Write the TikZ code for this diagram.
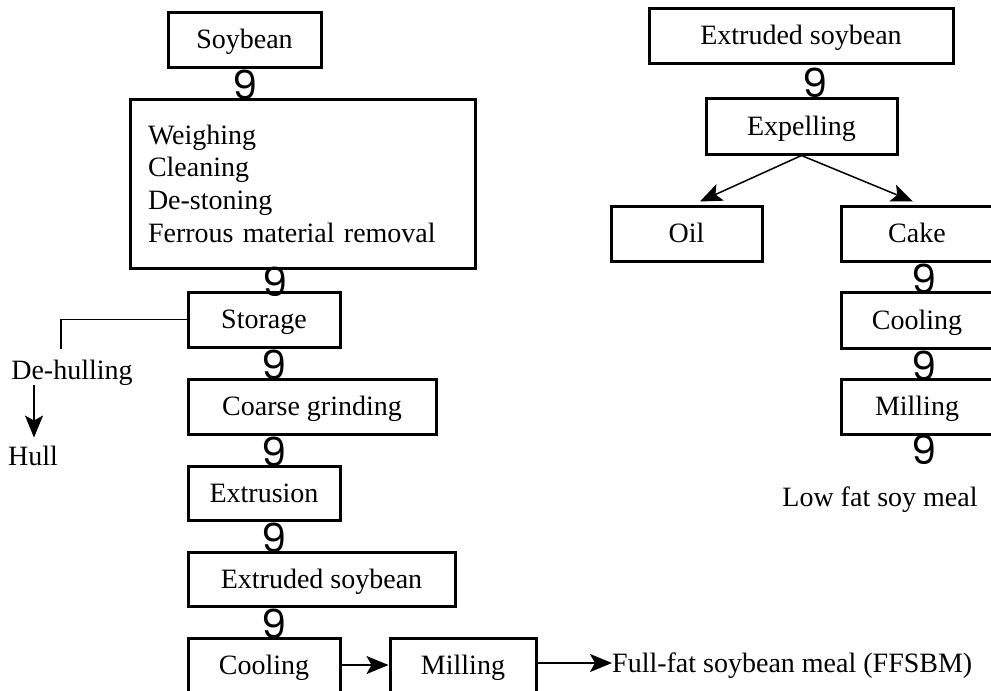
\documentclass[tikz,border=0pt]{standalone}
\usepackage{fontspec}
\setmainfont{Liberation Serif}
\newfontfamily\markfont{Poppins}
\usetikzlibrary{arrows.meta}
\begin{document}
\begin{tikzpicture}[x=1pt,y=-1pt,
  every node/.style={inner sep=0pt, font=\fontsize{28}{32.7}\selectfont},
  label/.style={text height=18.5pt, text depth=0pt},
  stagebox/.style={label, draw, line width=3pt, minimum height=55pt},
  flowmark/.style={font=\markfont\fontsize{40}{40}\selectfont},
  link/.style={line width=1.5pt},
  arr/.style={link, -{Stealth[length=22pt,width=18pt,inset=5pt]}}]
\useasboundingbox (0,0) rectangle (991,691);
\clip (0,0) rectangle (991,691);

% main processing line
\node[stagebox, minimum width=153pt] (soy) at (244.5,39.5) {Soybean};
\node[draw, line width=3pt, align=left, text width=309pt, inner xsep=18pt,
      minimum height=169pt] (prep) at (302.5,183.5)
  {Weighing\\Cleaning\\De-stoning\\Ferrous material removal};
\node[stagebox, minimum width=152pt] (storage) at (264,319.5) {Storage};
\node[stagebox, minimum width=248pt] (coarse) at (312,406.5) {Coarse grinding};
\node[stagebox, minimum width=152pt, minimum height=54pt] (extrusion) at (264,493) {Extrusion};
\node[stagebox, minimum width=267pt, minimum height=54pt] (extsoy) at (321.5,579) {Extruded soybean};
\node[stagebox, minimum width=152pt, minimum height=54pt] (coolA) at (264,665) {Cooling};
\node[stagebox, minimum width=146pt, minimum height=54pt] (millA) at (463,665) {Milling};
\node[label, anchor=west] (ffsbm) at (612,663) {Full-fat soybean meal (FFSBM)};

\node[flowmark] (m1) at (245,85) {9};
\node[flowmark] (m2) at (275,282) {9};
\node[flowmark] (m3) at (274,365) {9};
\node[flowmark] (m4) at (274,452) {9};
\node[flowmark] (m5) at (274,538) {9};
\node[flowmark] (m6) at (274,624) {9};

\draw[arr] (coolA.east) -- (millA.west);
\draw[arr] (millA.east |- ffsbm.west) -- (ffsbm.west);

% hull side branch
\node[label] (dehull) at (72,370.5) {De-hulling};
\node[label] (hull) at (33,456) {Hull};
\coordinate (dhbend) at (61,349);
\coordinate (hullfrom) at (34,385);
\draw[link] (storage.west) -| (dhbend);
\draw[arr, shorten >=9pt] (hullfrom) -- (hull.north -| hullfrom);

% expelling line
\node[stagebox, minimum width=304pt] (rext) at (801,35.5) {Extruded soybean};
\node[stagebox, minimum width=191pt, minimum height=56pt] (expel) at (801.5,126) {Expelling};
\node[stagebox, minimum width=151pt] (oil) at (686.5,233.5) {Oil};
\node[stagebox, minimum width=152pt] (cake) at (917,233.5) {Cake};
\node[stagebox, minimum width=152pt, minimum height=56pt] (coolB) at (917,320) {Cooling};
\node[stagebox, minimum width=152pt] (millB) at (917,406.5) {Milling};
\node[label] (lowfat) at (880,497) {Low fat soy meal};

\node[flowmark] (r1) at (815,82.5) {9};
\node[flowmark] (r2) at (924,278.5) {9};
\node[flowmark] (r3) at (924,365.5) {9};
\node[flowmark] (r4) at (924,450) {9};

\draw[arr] (expel.south) -- ([xshift=13.5pt,yshift=3pt]oil.north);
\draw[arr] (expel.south) -- ([xshift=-4pt,yshift=3pt]cake.north);
\end{tikzpicture}
\end{document}
